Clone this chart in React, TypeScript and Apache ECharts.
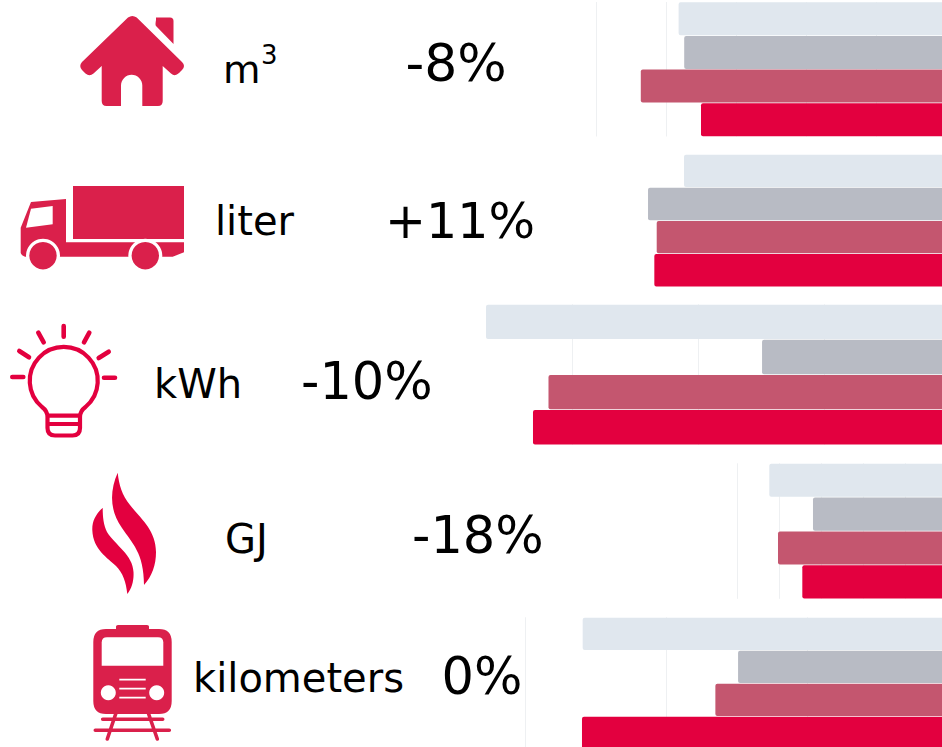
import React, { useEffect, useRef } from "react";
import * as echarts from "echarts";

// Bars, one list per row, in the order they stack from top to bottom
const periods = ["Period 1", "Period 2", "Period 3", "Period 4"];
const m3Values = [3830, 3750, 4370, 3510];
const literValues = [3757, 4271, 4147, 4181];
const kwhValues = [3685, 1494, 3189, 3312];
const gjValues = [4238, 3198, 4031, 3452];
const kmValues = [2593, 1491, 1652, 2598];

const units = ["m", "liter", "kWh", "GJ", "kilometers"];
const changes = ["-8%", "+11%", "-10%", "-18%", "0%"];
const barColors = ["#E0E7EE", "#B8BBC4", "#C4566F", "#E3003F"];

const rows = [
  { values: m3Values, max: 5000, interval: 1000, top: 2, height: 134.5, left: 596.7, zero: 946.7, lines: true, maxLine: true },
  { values: literValues, max: 5000, interval: 1000, top: 154.3, height: 132.5, left: 597, zero: 947, lines: false, maxLine: false },
  { values: kwhValues, max: 4000, interval: 1000, top: 304.3, height: 140.5, left: 446.3, zero: 950.3, lines: true, maxLine: false },
  { values: gjValues, max: 5000, interval: 1000, top: 463.3, height: 135.5, left: 737.3, zero: 947.3, lines: true, maxLine: true },
  { values: kmValues, max: 3000, interval: 1000, top: 617.3, height: 132, left: 525.3, zero: 948.3, lines: true, maxLine: true },
];

const ICON_RED = "#DA204B";
const BRIGHT_RED = "#E3003F";

echarts.graphic.registerShape(
  "iconHouse",
  echarts.graphic.extendPath(
    "M128 17.5 Q132.3 14.5 136.7 17.5 L182 62 Q186 66 182 70 L179 73 Q175 77 171 73.5 L162.7 66 L162.7 101 Q162.7 106 158 106 L142.3 106 L142.3 85.5 A10.65 10.65 0 0 0 121 85.5 L121 106 L106.5 106 Q101.7 106 101.7 101 L101.7 66 L93.5 73.5 Q89.5 77 85.5 73.5 L82 70 Q78.5 66 82 62 Z M156 17.5 L170 17.5 Q173.5 17.5 173.5 21 L173.5 44 L156 26 Q155 25 156 20 Z",
    {}
  )
);
echarts.graphic.registerShape(
  "iconCab",
  echarts.graphic.extendPath(
    "M20.7 227.7 L31 202 L66 199 L66 242.3 L184 242.3 L184 252.3 L172.7 256.7 L25 256.7 Q21 255 20.7 253 Z",
    {}
  )
);
echarts.graphic.registerShape(
  "iconBulb",
  echarts.graphic.extendPath(
    "M47.5 420 L47.5 417 Q47.5 411 42 407 A34 34 0 1 1 85.5 407 Q80 411 80 417 L80 428 Q80 435.5 72.5 435.5 L55 435.5 Q47.5 435.5 47.5 428 Z M47.5 415.7 L80 415.7 M47.5 424 L80 424",
    {}
  )
);
echarts.graphic.registerShape(
  "iconRays",
  echarts.graphic.extendPath(
    "M63.7 326 L63.7 336.7 M38.3 332.7 L43.7 342.3 M89.3 332.7 L84 342.3 M19.3 351 L29 357.3 M108.7 351.7 L98.7 358 M12.3 377 L23.3 377 M104 377.7 L115 377.7",
    {}
  )
);
echarts.graphic.registerShape(
  "iconFlame",
  echarts.graphic.extendPath(
    "M117.7 472.7 C110 490 109 510 122 528 C132 543 144 553 144 585 C152 576 156 565 156 552 C156 530 140 518 130 505 C122 495 119 485 117.7 472.7 Z M102.7 507.7 C95 515 92 522 92.3 530 C93 550 108 558 116 566 C123 573 126 582 127.3 594 C132 588 134 580 133.5 572 C133 555 115 545 107 532 C103.5 525 102.7 517 102.7 507.7 Z",
    {}
  )
);
echarts.graphic.registerShape(
  "iconTrain",
  echarts.graphic.extendPath(
    "M106 629 L116 629 L116 626.5 Q116 625 118 625 L147 625 Q149 625 149 626.5 L149 629 L159 629 Q171.7 629 171.7 642 L171.7 701 Q171.7 714 159 714 L106 714 Q93.3 714 93.3 701 L93.3 642 Q93.3 629 106 629 Z",
    {}
  )
);
echarts.graphic.registerShape(
  "iconWindow",
  echarts.graphic.extendPath(
    "M107 637.3 L158 637.3 Q163.3 637.3 163.3 642.5 L163.3 665.7 L101.7 665.7 L101.7 642.5 Q101.7 637.3 107 637.3 Z",
    {}
  )
);
echarts.graphic.registerShape(
  "iconTrack",
  echarts.graphic.extendPath(
    "M102.7 719.3 L162.7 719.3 M95.3 730.3 L169.3 730.3 M116 713 L107.3 739 M148.3 713 L157.3 739",
    {}
  )
);
echarts.graphic.registerShape(
  "iconGrille",
  echarts.graphic.extendPath(
    "M119.3 679.7 L145.7 679.7 M119.3 688.7 L145.7 688.7 M119.3 697.7 L145.7 697.7",
    {}
  )
);

const labelFont = '40px "DejaVu Sans"';

function textEl(text: string, x: number, baseline: number, font: string, size: number) {
  return {
    type: "text",
    x,
    y: baseline - size * 0.88,
    silent: true,
    style: { text, font, fill: "#000000", textAlign: "left", textVerticalAlign: "top" },
  };
}

function changeEl(text: string, x: number, baseline: number, size: number) {
  return textEl(text, x, baseline, `${size}px "DejaVu Sans"`, size);
}

function App() {
  const ref = useRef<HTMLDivElement>(null);

  useEffect(() => {
    const chart = echarts.init(ref.current!, null, { renderer: "svg" });
    const grids = rows.map((r) => ({
      left: r.left,
      top: r.top,
      width: r.zero - r.left,
      height: r.height,
      containLabel: false,
      outerBoundsMode: "none",
    }));
    const xAxes = rows.map((r, i) => ({
      type: "value",
      gridIndex: i,
      inverse: true,
      min: 0,
      max: r.max,
      interval: r.interval,
      axisLabel: { show: false },
      axisLine: { show: false },
      axisTick: { show: false },
      splitLine: {
        show: r.lines,
        showMaxLine: r.maxLine,
        lineStyle: { color: "#EEF0F2", width: 1 },
      },
    }));
    const yAxes = rows.map((_, i) => ({
      type: "category",
      gridIndex: i,
      inverse: true,
      data: periods,
      axisLabel: { show: false },
      axisLine: { show: false },
      axisTick: { show: false },
      splitLine: { show: false },
    }));
    const series = rows.map((r, i) => ({
      type: "bar",
      name: units[i],
      xAxisIndex: i,
      yAxisIndex: i,
      barCategoryGap: "2%",
      silent: true,
      data: r.values.map((v, k) => ({
        value: v,
        itemStyle: { color: barColors[k], borderRadius: 2 },
      })),
    }));

    const graphic = [
      { type: "iconHouse", silent: true, style: { fill: ICON_RED } },
      { type: "iconCab", silent: true, style: { fill: ICON_RED } },
      { type: "rect", silent: true, shape: { x: 73, y: 186, width: 111, height: 53 }, style: { fill: ICON_RED } },
      { type: "polygon", silent: true, shape: { points: [[31, 208.7], [52.7, 206], [52.7, 224.3], [26, 227.7]] }, style: { fill: "#fff" } },
      { type: "circle", silent: true, shape: { cx: 43, cy: 255.7, r: 17 }, style: { fill: "#fff" } },
      { type: "circle", silent: true, shape: { cx: 145.3, cy: 255.7, r: 17 }, style: { fill: "#fff" } },
      { type: "circle", silent: true, shape: { cx: 43, cy: 255.7, r: 13.7 }, style: { fill: ICON_RED } },
      { type: "circle", silent: true, shape: { cx: 145.3, cy: 255.7, r: 13.7 }, style: { fill: ICON_RED } },
      { type: "iconBulb", silent: true, style: { fill: "none", stroke: BRIGHT_RED, lineWidth: 4.2 } },
      { type: "iconRays", silent: true, style: { fill: "none", stroke: BRIGHT_RED, lineWidth: 4.6, lineCap: "round" } },
      { type: "iconFlame", silent: true, style: { fill: BRIGHT_RED } },
      { type: "iconTrack", silent: true, style: { fill: "none", stroke: ICON_RED, lineWidth: 3.6, lineCap: "round" } },
      { type: "iconTrain", silent: true, style: { fill: ICON_RED } },
      { type: "iconWindow", silent: true, style: { fill: "#fff" } },
      { type: "circle", silent: true, shape: { cx: 108.3, cy: 692.7, r: 7.5 }, style: { fill: "#fff" } },
      { type: "circle", silent: true, shape: { cx: 156.7, cy: 692.7, r: 7.5 }, style: { fill: "#fff" } },
      { type: "iconGrille", silent: true, style: { fill: "none", stroke: "#fff", lineWidth: 1.8 } },
      textEl(units[0], 223, 85, '38.5px "DejaVu Sans"', 40),
      textEl("3", 261, 67, '26px "DejaVu Sans"', 28),
      textEl(units[1], 215, 236, labelFont, 40),
      textEl(units[2], 154, 399.3, labelFont, 40),
      textEl(units[3], 225, 554, labelFont, 40),
      textEl(units[4], 193, 692.7, labelFont, 40),
      changeEl(changes[0], 405.5, 83, 52),
      changeEl(changes[1], 385, 240, 49),
      changeEl(changes[2], 301, 401, 51),
      changeEl(changes[3], 412, 555, 51),
      changeEl(changes[4], 441.5, 696, 51),
    ];

    chart.setOption({
      animation: false,
      backgroundColor: "#ffffff",
      grid: grids,
      xAxis: xAxes,
      yAxis: yAxes,
      series,
      graphic,
    });
    return () => chart.dispose();
  }, []);

  return (
    <div
      ref={ref}
      style={{ position: "fixed", left: 0, top: 0, width: 942, height: 747, overflow: "hidden", background: "#fff" }}
    />
  );
}

export default App;
